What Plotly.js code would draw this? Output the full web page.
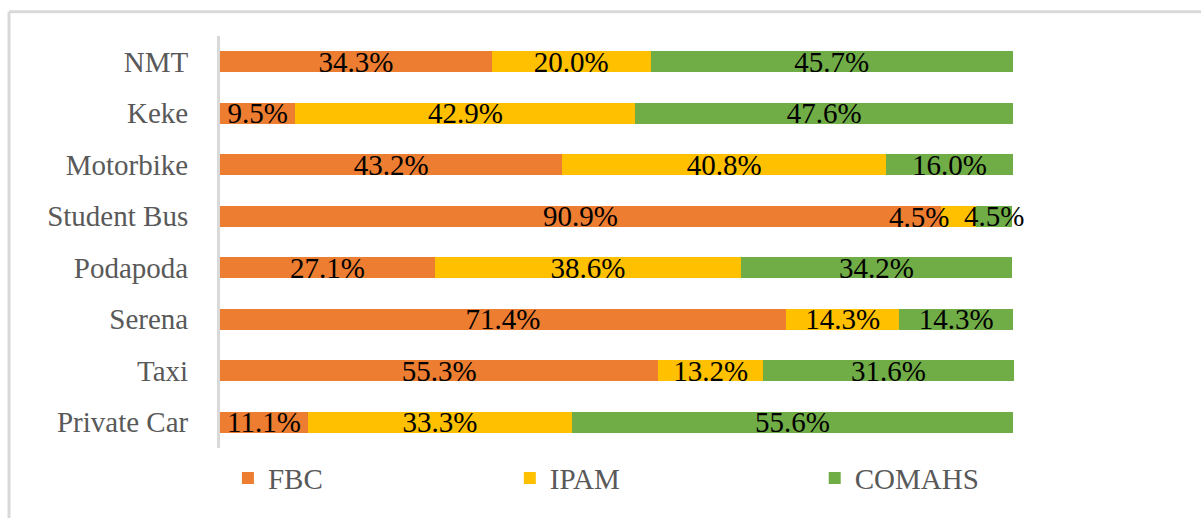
<!DOCTYPE html>
<html>
<head>
<meta charset="utf-8">
<script src="https://cdn.plot.ly/plotly-3.0.1.min.js"></script>
<style>html,body{margin:0;padding:0;background:#fff;}#chart{width:1201px;height:518px;}</style>
</head>
<body>
<div id="chart"></div>
<script>
const categories = ["Private Car", "Taxi", "Serena", "Podapoda", "Student Bus", "Motorbike", "Keke", "NMT"];
const fbc    = [11.1, 55.3, 71.4, 27.1, 90.9, 43.2, 9.5, 34.3];
const ipam   = [33.3, 13.2, 14.3, 38.6, 4.5, 40.8, 42.9, 20.0];
const comahs = [55.6, 31.6, 14.3, 34.2, 4.5, 16.0, 47.6, 45.7];
const seriesNames = ["FBC", "IPAM", "COMAHS"];
const colors = ["#ED7D31", "#FFC000", "#70AD47"];

const FONT = '"Liberation Serif", "Times New Roman", serif';
const FS = 29;
const series = [fbc, ipam, comahs];
const legendIds = ["legend", "legend2", "legend3"];
const legendX = [0.010, 0.365, 0.749];

// label of IPAM on Student Bus is moved aside (too narrow segment)
const shiftedIdx = categories.indexOf("Student Bus");

const traces = series.map((vals, s) => ({
  type: "bar",
  orientation: "h",
  name: seriesNames[s],
  legend: legendIds[s],
  y: categories,
  x: vals,
  marker: {color: colors[s]},
  text: vals.map((v, i) => (s === 1 && i === shiftedIdx) ? "" : v.toFixed(1) + "%"),
  textposition: "inside",
  insidetextanchor: "middle",
  textangle: 0,
  constraintext: "none",
  cliponaxis: false,
  textfont: {family: FONT, size: FS, color: "#000"},
  hoverinfo: "skip"
}));

const annotations = [{
  x: fbc[shiftedIdx] + ipam[shiftedIdx] / 2,
  y: categories[shiftedIdx],
  xref: "x", yref: "y",
  text: ipam[shiftedIdx].toFixed(1) + "%",
  showarrow: false,
  xshift: -40,
  yshift: -1,
  font: {family: FONT, size: FS, color: "#000"}
}];

const frameColor = "#D9D9D9";
const legendBase = (x) => ({
  orientation: "h",
  x: x, xanchor: "left",
  y: -0.073, yanchor: "middle",
  font: {family: FONT, size: FS, color: "#595959"},
  bgcolor: "rgba(0,0,0,0)"
});

const layout = {
  width: 1201, height: 518,
  margin: {l: 220, r: 187, t: 36, b: 70},
  paper_bgcolor: "#fff", plot_bgcolor: "#fff",
  barmode: "stack",
  bargap: 0.59,
  showlegend: true,
  legend: legendBase(legendX[0]),
  legend2: legendBase(legendX[1]),
  legend3: legendBase(legendX[2]),
  xaxis: {
    range: [0, 100.15], visible: false, fixedrange: true
  },
  yaxis: {
    categoryorder: "array", categoryarray: categories,
    showline: true, linecolor: frameColor, linewidth: 3,
    ticks: "", showgrid: false, zeroline: false,
    ticklabelstandoff: 23,
    tickfont: {family: FONT, size: FS, color: "#595959"},
    fixedrange: true
  },
  annotations: annotations,
  shapes: [
    {type: "line", xref: "paper", yref: "paper", x0: -0.2657, x1: -0.2657, y0: 1.059, y1: -0.2, line: {color: frameColor, width: 3}},
    {type: "line", xref: "paper", yref: "paper", x0: -0.2657, x1: 1.25, y0: 1.059, y1: 1.059, line: {color: frameColor, width: 3}}
  ]
};

Plotly.newPlot("chart", traces, layout, {displayModeBar: false, staticPlot: true});
</script>
</body>
</html>
